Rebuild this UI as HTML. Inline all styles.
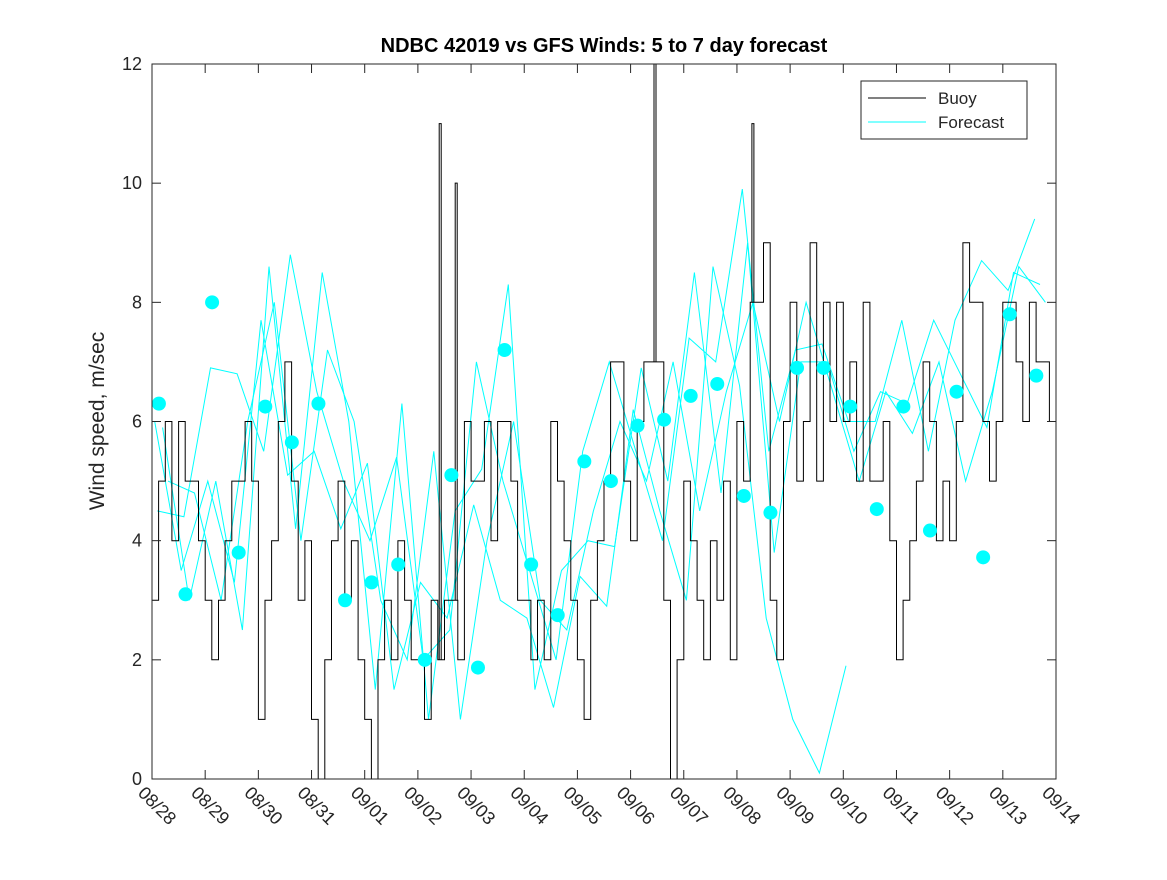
<!DOCTYPE html>
<html><head><meta charset="utf-8"><style>
body{margin:0;background:#fff;}
svg text{font-family:"Liberation Sans","DejaVu Sans",sans-serif;fill:#262626;}
</style></head><body>
<svg id="chart" width="1167" height="875" xmlns="http://www.w3.org/2000/svg">
<rect width="1167" height="875" fill="#fff"/>
<text x="604" y="52" text-anchor="middle" font-size="20" font-weight="bold" style="fill:#000">NDBC 42019 vs GFS Winds: 5 to 7 day forecast</text>
<text transform="translate(104,421) rotate(-90)" text-anchor="middle" font-size="21">Wind speed, m/sec</text>
<g id="series"></g>
<rect x="152" y="64" width="904" height="715" fill="none" stroke="#262626" stroke-width="1"/>
<g id="axes"></g>
<g>
<rect x="861" y="81" width="166" height="58" fill="#fff" stroke="#262626"/>
<line x1="868" y1="98" x2="926" y2="98" stroke="#000"/>
<text x="938" y="104" font-size="17">Buoy</text>
<line x1="868" y1="122" x2="926" y2="122" stroke="#00ffff"/>
<text x="938" y="128" font-size="17">Forecast</text>
</g>
</svg>
<script>
const xTickLabels=["08/28","08/29","08/30","08/31","09/01","09/02","09/03","09/04","09/05","09/06","09/07","09/08","09/09","09/10","09/11","09/12","09/13","09/14"];
const yTicks=[0,2,4,6,8,10,12];
const buoy=[3,5,6,4,6,5,5,4, 3,2,3,4,5,5,6,5, 1,3,4,6,7,5,3,4, 1,0,2,4,5,3,4,2, 1,0,2,3,2,4,3,2, 2,1,3,2,3,3,2,6, 5,5,6,4,6,6,5,3, 3,2,3,2,6,5,4,3, 2,1,3,4,5,7,7,5, 4,6,7,7,7,3,0,2, 5,4,3,2,4,3,5,2, 6,5,8,8,9,3,2,6, 8,5,6,9,5,8,6,8, 6,7,5,8,5,5,6,4, 2,3,4,5,7,6,4,5, 4,6,9,8,8,6,5,6, 8,8,7,6,8,7,7,6];
const spikeDays=[5.42,5.72,9.46,11.3];
const spikeValues=[11,10,12,11];
const fcA=[4.5,4.4,6.9,6.8,5.5,8.8,6.5,5.0,4.0,5.4,2.0,2.5,7.0,5.0,3.5,2.0,5.5,7.0,5.5,4.0,7.4,7.0,9.9,5.5,7.2,7.3,6.0,6.0,7.7,5.5,7.7,8.7,8.2,9.4];
const fcB=[5.9,3.0,5.0,2.5,8.6,4.2,8.5,6.0,1.5,6.3,1.0,4.5,5.2,8.3,1.5,3.5,4.0,3.9,6.9,5.0,8.5,4.8,9.0,3.8,7.0,7.0,5.5,6.5,6.3,7.7,6.8,5.9,8.5,8.3];
const fcC=[6.0,3.5,5.0,3.3,7.7,5.1,5.5,4.2,5.3,1.5,3.3,2.7,4.6,3.0,2.7,1.2,3.4,2.9,6.2,4.5,3.0,8.6,6.6,2.7,1.0,0.1,1.9];
const fcD=[5.0,4.8,3.0,6.0,8.0,4.0,7.2,6.0,3.0,2.0,5.5,1.0,4.0,6.0,3.0,2.5,4.5,6.0,5.0,7.0,4.5,6.5,8.0,6.0,8.0,6.5,5.0,6.5,5.8,7.0,5.0,6.5,8.6,8.0];
const dots=[6.3,3.1,8.0,3.8,6.25,5.65,6.3,3.0,3.3,3.6,2.0,5.1,1.87,7.2,3.6,2.75,5.33,5.0,5.93,6.03,6.43,6.63,4.75,4.47,6.9,6.9,6.25,4.53,6.25,4.17,6.5,3.72,7.8,6.77];

const NS="http://www.w3.org/2000/svg";
const X0=152,X1=1056,Y0=779,Y1=64;
const xs=d=>X0+d*(X1-X0)/17;
const ys=v=>Y0-v*(Y0-Y1)/12;
function mk(t,a,p){const e=document.createElementNS(NS,t);for(const k in a)e.setAttribute(k,a[k]);p.appendChild(e);return e;}
const ax=document.getElementById('axes'),se=document.getElementById('series');
yTicks.forEach(v=>{
  const y=ys(v);
  const l=mk('line',{x1:X0,y1:y,x2:X0+9,y2:y,stroke:'#262626'},ax);
  
  
  const r=mk('line',{x1:X1-9,y1:y,x2:X1,y2:y,stroke:'#262626'},ax);
  
  
  const t=mk('text',{x:X0-10,y:y+6,'text-anchor':'end','font-size':'18'},ax);
  t.textContent=v;
  
  
});
xTickLabels.forEach((s,i)=>{
  const x=xs(i);
  const l=mk('line',{x1:x,y1:Y0,x2:x,y2:Y0-9,stroke:'#262626'},ax);
  
  
  const t2=mk('line',{x1:x,y1:Y1,x2:x,y2:Y1+9,stroke:'#262626'},ax);
  
  
  const t=mk('text',{transform:`translate(${x-15},${Y0+15}) rotate(45)`,'font-size':'18'},ax);
  t.textContent=s;
  
  
});
function fcLine(arr,off,name){
  const pts=arr.map((v,i)=>`${xs(off+0.5*i).toFixed(1)},${ys(v).toFixed(1)}`).join(' ');
  const p=mk('polyline',{points:pts,fill:'none',stroke:'#00ffff','stroke-width':'1'},se);
  
  
}
fcLine(fcA,0.1,'forecast-run-a');
fcLine(fcB,0.2,'forecast-run-b');
fcLine(fcC,0.05,'forecast-run-c');
fcLine(fcD,0.3,'forecast-run-d');
let d='';
buoy.forEach((v,i)=>{const x0=xs(i/8),x1=xs((i+1)/8),y=ys(v);d+=(i?'L':'M')+x0.toFixed(1)+','+y.toFixed(1)+'L'+x1.toFixed(1)+','+y.toFixed(1);});
const bp=mk('path',{d:d,fill:'none',stroke:'#000','stroke-width':'1'},se);


spikeDays.forEach((t,i)=>{
  const base=buoy[Math.floor(t*8)];
  const x=xs(t);
  const sp=mk('polyline',{points:`${(x-1).toFixed(1)},${ys(base)} ${(x-1).toFixed(1)},${ys(spikeValues[i])} ${(x+1).toFixed(1)},${ys(spikeValues[i])} ${(x+1).toFixed(1)},${ys(base)}`,fill:'none',stroke:'#000','stroke-width':'1'},se);
  
  
});
dots.forEach((v,i)=>{
  const c=mk('circle',{cx:xs(0.13+0.5*i),cy:ys(v),r:7,fill:'#00ffff'},se);
  
  
});
</script>
</body></html>
